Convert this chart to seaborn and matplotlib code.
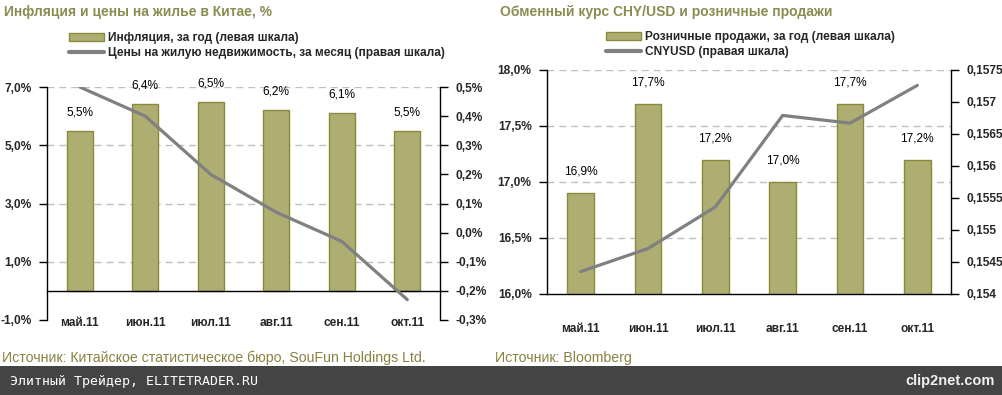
import numpy as np
import pandas as pd
import matplotlib
matplotlib.use("Agg")
import matplotlib.pyplot as plt
import seaborn as sns
from matplotlib.patches import Patch, Rectangle
from matplotlib.lines import Line2D
from matplotlib.ticker import FixedLocator, FuncFormatter

# ---------------- data ----------------
months = ["май.11", "июн.11", "июл.11", "авг.11", "сен.11", "окт.11"]
inflation = [5.5, 6.4, 6.5, 6.2, 6.1, 5.5]
house_prices = [0.50, 0.40, 0.20, 0.07, -0.03, -0.23]
retail = [16.9, 17.7, 17.2, 17.0, 17.7, 17.2]
cnyusd = [0.15435, 0.15471, 0.15536, 0.15679, 0.15667, 0.15726]

left1_ticks = [-1.0, 1.0, 3.0, 5.0, 7.0]
right1_ticks = [-0.3, -0.2, -0.1, 0.0, 0.1, 0.2, 0.3, 0.4, 0.5]
left2_ticks = [16.0, 16.5, 17.0, 17.5, 18.0]
right2_ticks = [0.154, 0.1545, 0.155, 0.1555, 0.156, 0.1565, 0.157, 0.1575]

title1 = "Инфляция и цены на жилье в Китае, %"
title2 = "Обменный курс CHY/USD и розничные продажи"
leg1 = ["Инфляция, за год (левая шкала)", "Цены на жилую недвижимость, за месяц (правая шкала)"]
leg2 = ["Розничные продажи, за год (левая шкала)", "CNYUSD (правая шкала)"]
src1 = "Источник: Китайское статистическое бюро, SouFun Holdings Ltd."
src2 = "Источник: Bloomberg"
footer = "Элитный Трейдер, ELITETRADER.RU"

# ---------------- style ----------------
sns.set_theme(style="white")
plt.rcParams["font.family"] = ["Liberation Sans", "DejaVu Sans"]
BAR = "#AEAD72"
BAR_EDGE = "#8A8A3C"
LINE = "#808080"
GRID = "#BFBFBF"
TITLE = "#8C8C52"
TXT = "#000000"
FS = 8.6

df1 = pd.DataFrame({"month": months, "inflation": inflation, "house": house_prices})
df2 = pd.DataFrame({"month": months, "retail": retail, "cny": cnyusd})
df1["pos"] = np.arange(len(months))
df2["pos"] = np.arange(len(months))

fig = plt.figure(figsize=(10.03, 3.95), dpi=100)
W, H = 1003, 395


def axes_px(x0, x1, ytop, ybot):
    return fig.add_axes([x0 / W, 1 - ybot / H, (x1 - x0) / W, (ybot - ytop) / H])


def pct(v, _=None):
    return f"{v:.1f}%".replace(".", ",")


def style_common(ax, ticks, ylim, spine_at, label_pad):
    ax.set_xlim(-0.5, len(months) - 0.5)
    ax.set_ylim(*ylim)
    for s in ["top", "right"]:
        ax.spines[s].set_visible(False)
    ax.spines["left"].set_color("black")
    ax.spines["left"].set_linewidth(1.0)
    ax.spines["bottom"].set_color("black")
    ax.spines["bottom"].set_linewidth(1.0)
    ax.spines["bottom"].set_position(("data", spine_at))
    ax.yaxis.set_major_locator(FixedLocator(ticks))
    ax.yaxis.set_major_formatter(FuncFormatter(pct))
    ax.tick_params(axis="y", which="major", direction="out", length=6, width=1,
                   color="black", labelsize=FS, pad=5)
    for t in ax.get_yticklabels():
        t.set_fontweight("bold")
    # category boundaries as major ticks, labels on minor ticks
    ax.xaxis.set_major_locator(FixedLocator(np.arange(0.5, len(months) - 0.5, 1)))
    ax.xaxis.set_major_formatter(FuncFormatter(lambda v, p: ""))
    ax.set_xticks(np.arange(len(months)), minor=True)
    ax.set_xticklabels(months, minor=True, fontsize=FS, fontweight="bold")
    ax.tick_params(axis="x", which="major", direction="out", length=6, width=1, color="black")
    ax.tick_params(axis="x", which="minor", length=0, pad=label_pad)
    ax.set_xlabel("")
    ax.set_ylabel("")
    for v in ticks:
        if v != ylim[0]:
            ax.axhline(v, color=GRID, lw=1, ls=(0, (5, 3.5)), zorder=0)
    ax.set_axisbelow(True)


def style_right(ax2, ticks, ylim, fmt):
    ax2.set_ylim(*ylim)
    for s in ["top", "left", "bottom"]:
        ax2.spines[s].set_visible(False)
    ax2.spines["right"].set_visible(True)
    ax2.spines["right"].set_color("black")
    ax2.spines["right"].set_linewidth(1.0)
    ax2.yaxis.set_major_locator(FixedLocator(ticks))
    ax2.yaxis.set_major_formatter(FuncFormatter(fmt))
    ax2.tick_params(axis="y", direction="out", length=6, width=1, color="black",
                    labelsize=FS, pad=5, right=True, labelright=True)
    for t in ax2.get_yticklabels():
        t.set_fontweight("bold")
    ax2.set_ylabel("")
    ax2.grid(False)


# ---------------- left chart ----------------
ax1 = axes_px(47, 440, 87, 320)
sns.barplot(data=df1, x="month", y="inflation", ax=ax1, color=BAR, width=0.4,
            edgecolor=BAR_EDGE, linewidth=1.0, saturation=1, zorder=2)
style_common(ax1, left1_ticks, (-1.0, 7.0), 0.0, 19)
ax1.bar_label(ax1.containers[0], labels=[pct(v) for v in inflation], padding=9,
              fontsize=FS, color=TXT)
ax1r = ax1.twinx()
sns.lineplot(data=df1, x="pos", y="house", ax=ax1r, color=LINE, lw=2.3, zorder=3)
style_right(ax1r, right1_ticks, (-0.3, 0.5), pct)
ax1r.set_xlim(-0.5, len(months) - 0.5)
ax1r.set_xlabel("")

# ---------------- right chart ----------------
ax2 = axes_px(547, 951, 70, 294)
sns.barplot(data=df2, x="month", y="retail", ax=ax2, color=BAR, width=0.4,
            edgecolor=BAR_EDGE, linewidth=1.0, saturation=1, zorder=2)
style_common(ax2, left2_ticks, (16.0, 18.0), 16.0, 21)
ax2.bar_label(ax2.containers[0], labels=[pct(v) for v in retail], padding=11,
              fontsize=FS, color=TXT)
ax2r = ax2.twinx()
sns.lineplot(data=df2, x="pos", y="cny", ax=ax2r, color=LINE, lw=2.3, zorder=3)
style_right(ax2r, right2_ticks, (0.154, 0.1575),
            lambda v, p=None: f"{round(v, 4):g}".replace(".", ","))
ax2r.set_xlim(-0.5, len(months) - 0.5)
ax2r.set_xlabel("")

# ---------------- titles / legends ----------------
fig.text(4 / W, 1 - 12 / H, title1, color=TITLE, fontsize=10, fontweight="bold",
         ha="left", va="center")
fig.text(500 / W, 1 - 12 / H, title2, color=TITLE, fontsize=10, fontweight="bold",
         ha="left", va="center")

h_bar = Patch(facecolor=BAR, edgecolor=BAR_EDGE, linewidth=1.0)
h_line = Line2D([], [], color=LINE, lw=3)
for (x0, ytop), labels in [((69 / W, 1 - 32 / H), leg1), ((606 / W, 1 - 31 / H), leg2)]:
    lg = fig.legend([h_bar, h_line], labels, loc="upper left", bbox_to_anchor=(x0, ytop),
                    frameon=False, fontsize=FS, handlelength=2.9, handleheight=0.6,
                    handletextpad=0.35, labelspacing=0.25, borderpad=0, borderaxespad=0)
    for t in lg.get_texts():
        t.set_fontweight("bold")

# ---------------- sources & footer ----------------
fig.text(2 / W, 1 - 358 / H, src1, color="#8A8040", fontsize=10.2,
         ha="left", va="center")
fig.text(495 / W, 1 - 358 / H, src2, color="#8A8040", fontsize=10.2,
         ha="left", va="center")
fig.patches.append(Rectangle((0, 0), 1, 29 / H, transform=fig.transFigure,
                             facecolor="#444444", edgecolor="none", zorder=0))
fig.text(10 / W, 14 / H, footer, color="white", fontsize=9.5,
         family=["DejaVu Sans Mono", "DejaVu Sans"], ha="left", va="center")
fig.text(995 / W, 14 / H, "clip2net.com", color="#f0f0f0", fontsize=10.5, fontweight="bold",
         ha="right", va="center")

fig.savefig("out.png", dpi=100, facecolor="white")
